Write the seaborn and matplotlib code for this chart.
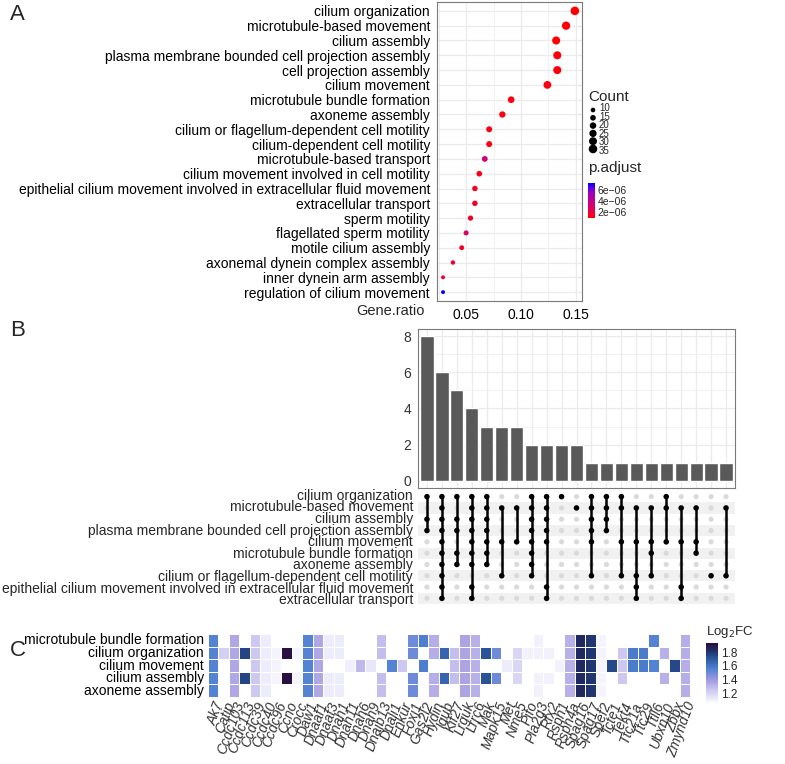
import numpy as np
import pandas as pd
import matplotlib
matplotlib.use("Agg")
import matplotlib.pyplot as plt
import seaborn as sns
from matplotlib.colors import LinearSegmentedColormap, Normalize

# ---------------- panel A: GO enrichment dot plot ----------------
go_terms = [
    "cilium organization",
    "microtubule-based movement",
    "cilium assembly",
    "plasma membrane bounded cell projection assembly",
    "cell projection assembly",
    "cilium movement",
    "microtubule bundle formation",
    "axoneme assembly",
    "cilium or flagellum-dependent cell motility",
    "cilium-dependent cell motility",
    "microtubule-based transport",
    "cilium movement involved in cell motility",
    "epithelial cilium movement involved in extracellular fluid movement",
    "extracellular transport",
    "sperm motility",
    "flagellated sperm motility",
    "motile cilium assembly",
    "axonemal dynein complex assembly",
    "inner dynein arm assembly",
    "regulation of cilium movement",
]
gene_ratio = [0.149, 0.141, 0.132, 0.133, 0.133, 0.124, 0.091, 0.083, 0.071, 0.071,
              0.067, 0.062, 0.058, 0.058, 0.054, 0.050, 0.046, 0.038, 0.029, 0.029]
gene_count = [35, 33, 31, 31, 31, 29, 21, 19, 17, 17, 16, 15, 14, 14, 13, 12, 11, 9, 7, 7]
p_adjust = [0.91e-6, 1.0e-6, 1.0e-6, 1.1e-6, 1.1e-6, 1.2e-6, 1.2e-6, 1.3e-6, 1.3e-6, 1.3e-6,
            3.3e-6, 1.4e-6, 1.5e-6, 1.5e-6, 1.6e-6, 2.9e-6, 1.6e-6, 1.7e-6, 1.8e-6, 7.3e-6]
count_breaks = [10, 15, 20, 25, 30, 35]
padj_breaks = [2e-6, 4e-6, 6e-6]

# ---------------- panel B: upset of top terms ----------------
upset_terms = [
    "cilium organization",
    "microtubule-based movement",
    "cilium assembly",
    "plasma membrane bounded cell projection assembly",
    "cilium movement",
    "microtubule bundle formation",
    "axoneme assembly",
    "cilium or flagellum-dependent cell motility",
    "epithelial cilium movement involved in extracellular fluid movement",
    "extracellular transport",
]
intersection_size = [8, 6, 5, 4, 3, 3, 3, 2, 2, 2, 2, 1, 1, 1, 1, 1, 1, 1, 1, 1, 1]
intersection_members = [
    [0, 2, 3],
    [0, 1, 2, 3, 4, 5, 6, 7, 8, 9],
    [0, 2, 3, 5, 6],
    [0, 1, 2, 3, 4, 5, 6, 8, 9],
    [0, 1, 2, 3, 4, 5, 6],
    [1, 4, 7],
    [1, 4],
    [0, 1, 2, 3, 4, 5, 6, 7],
    [0, 1, 2, 3, 4, 8, 9],
    [0],
    [1],
    [0, 1, 2, 3, 4, 7],
    [0, 1, 2, 3],
    [0, 1, 4, 7],
    [1, 4, 7, 8, 9],
    [1, 4, 5, 7],
    [0, 1, 4],
    [1, 4, 8, 9],
    [1, 4, 5],
    [7],
    [1, 7],
]

# ---------------- panel C: log2FC heatmap ----------------
heat_terms = ["microtubule bundle formation", "cilium organization", "cilium movement",
              "cilium assembly", "axoneme assembly"]
heat_genes = ["Ak7", "Catip", "Ccdc103", "Ccdc113", "Ccdc39", "Ccdc40", "Ccdc96", "Ccno",
              "Crocc", "Daw1", "Dnaaf1", "Dnaaf3", "Dnah1", "Dnah11", "Dnah6", "Dnah9",
              "Dnajb13", "Dnali1", "Enkur", "Foxj1", "Gas2l2", "Hydin", "Iqub", "Kif27",
              "Lrguk", "Lrrc6", "Mak", "Mapk15", "Met", "Nme5", "Pifo", "Pla2g3", "Rfx2",
              "Rsph1", "Rsph4a", "Spag16", "Spag17", "Spef2", "Tcte1", "Tekt4", "Ttc21a",
              "Ttc29", "Ttll6", "Ubxn10", "Zbbx", "Zmynd10"]
gene_log2fc = [1.55, 1.22, 1.35, 1.76, 1.25, 1.12, 1.09, 1.92,
               1.09, 1.55, 1.35, 1.12, 1.12, 1.11, 1.30, 1.14,
               1.28, 1.55, 1.25, 1.50, 1.57, 1.33, 1.66, 1.28,
               1.36, 1.32, 1.72, 1.50, 1.12, 1.20, 1.10, 1.10, 1.10,
               1.10, 1.32, 1.84, 1.80, 1.09, 1.75, 1.25, 1.58,
               1.58, 1.55, 1.32, 1.75, 1.33]
# membership per gene, one flag per heat_terms row (top to bottom)
gene_in_term = ["11111", "01000", "11111", "01010", "11111", "11111", "01110", "01010",
                "01010", "11111", "11111", "11011", "11011", "00100", "00100", "00100",
                "11011", "00100", "00100", "11011", "10100", "11011", "01010", "01110",
                "11111", "11111", "01010", "01010", "00100", "01110", "01000", "11011", "01010",
                "00100", "11111", "11111", "11111", "11111", "00100", "01110", "01100",
                "01100", "10100", "01010", "00100", "11111"]

# ---------------- figure ----------------
sns.set_style("white")
plt.rcParams["font.family"] = ["Liberation Sans", "DejaVu Sans"]

W, H = 785, 764
fig = plt.figure(figsize=(W / 100, H / 100), dpi=100)


def box(x0, y0, x1, y1):
    return [x0 / W, 1 - y1 / H, (x1 - x0) / W, (y1 - y0) / H]


border = "#7a7a7a"
grid_c = "#ebebeb"
dot_sizes = (8, 38)

# ---- A
padj_cmap = LinearSegmentedColormap.from_list(
    "padj", ["#ff0000", "#e3005c", "#c4008e", "#9500c4", "#0000ff"])
padj_norm = Normalize(vmin=min(p_adjust), vmax=max(p_adjust))

go_df = pd.DataFrame({"term": go_terms, "ratio": gene_ratio, "count": gene_count,
                      "padj": p_adjust, "pos": np.arange(len(go_terms))})

axA = fig.add_axes(box(437, 2, 582, 301))
axA.set_axisbelow(True)
sns.scatterplot(data=go_df, x="ratio", y="pos", size="count", sizes=dot_sizes,
                size_norm=(7, 35), hue="padj", palette=padj_cmap, hue_norm=padj_norm,
                edgecolor="none", legend=False, ax=axA, zorder=3)
axA.set_xlim(0.0235, 0.1555)
axA.set_ylim(len(go_terms) - 0.4, -0.6)
axA.set_yticks(go_df["pos"])
axA.set_yticklabels(go_terms, fontsize=10, color="black")
axA.set_xticks([0.05, 0.10, 0.15])
axA.set_xticklabels(["0.05", "0.10", "0.15"], fontsize=10, color="black")
axA.set_xticks([0.025, 0.075, 0.125], minor=True)
axA.grid(True, which="major", color=grid_c, lw=0.9)
axA.grid(True, which="minor", axis="x", color=grid_c, lw=0.5)
axA.tick_params(axis="both", which="major", length=3, width=0.6, color="#333333", pad=2)
axA.tick_params(axis="x", which="minor", length=0)
axA.set_xlabel("")
axA.set_ylabel("")
for s in axA.spines.values():
    s.set_color(border)
    s.set_linewidth(0.8)
fig.text(425 / W, 1 - 311 / H, "Gene.ratio", fontsize=10.5, ha="right", va="center")

# count legend
fig.text(588 / W, 1 - 97 / H, "Count", fontsize=11, ha="left", va="center")
axL = fig.add_axes(box(586, 104, 620, 156))
axL.axis("off")
axL.set_xlim(0, 34)
axL.set_ylim(5.9, -0.77)
leg_df = pd.DataFrame({"x": 7, "y": np.arange(len(count_breaks)), "count": count_breaks})
sns.scatterplot(data=leg_df, x="x", y="y", size="count", sizes=dot_sizes, size_norm=(7, 35),
                color="black", edgecolor="none", legend=False, ax=axL)
# the key labels sit closer than one text line, so they are set as one block
axL.text(13, (len(count_breaks) - 1) / 2, "\n".join(str(c) for c in count_breaks),
         fontsize=7, va="center", ha="left", linespacing=0.82)

# p.adjust legend
fig.text(588 / W, 1 - 168 / H, "p.adjust", fontsize=11, ha="left", va="center")
caxA = fig.add_axes(box(588, 183, 595, 218))
cbA = fig.colorbar(plt.cm.ScalarMappable(norm=padj_norm, cmap=padj_cmap), cax=caxA,
                   ticks=padj_breaks)
cbA.outline.set_visible(False)
cbA.ax.set_yticklabels(["2e\u221206", "4e\u221206", "6e\u221206"], fontsize=7.5)
cbA.ax.tick_params(length=2, width=0.6, color="white", direction="in", pad=2)

# ---- B bars
n_cols = len(intersection_size)
axB = fig.add_axes(box(418, 329, 735, 488))
axB.set_axisbelow(True)
sns.barplot(x=np.arange(n_cols), y=intersection_size, color="#595959", saturation=1,
            width=0.88, ax=axB, zorder=3)
axB.set_xlim(-0.6, n_cols - 0.4)
axB.set_ylim(-0.4, 8.4)
axB.set_yticks([0, 2, 4, 6, 8])
axB.set_yticks([1, 3, 5, 7], minor=True)
axB.set_yticklabels(["0", "2", "4", "6", "8"], fontsize=10, color="#333333")
axB.set_xticks(np.arange(n_cols))
axB.set_xticklabels([])
axB.grid(True, which="major", color=grid_c, lw=0.9)
axB.grid(True, which="minor", axis="y", color=grid_c, lw=0.5)
axB.tick_params(axis="y", which="major", length=3, width=0.6, color="#333333", pad=2)
axB.tick_params(axis="y", which="minor", length=0)
axB.tick_params(axis="x", length=3, width=0.6, color="#333333")
axB.set_xlabel("")
axB.set_ylabel("")
for s in axB.spines.values():
    s.set_color(border)
    s.set_linewidth(0.8)

# ---- B matrix
n_rows = len(upset_terms)
axM = fig.add_axes(box(418, 491, 735, 604))
for r in range(1, n_rows, 2):
    axM.axhspan(r - 0.5, r + 0.5, color="#f1f1f1", lw=0, zorder=0)
cells = []
for c, members in enumerate(intersection_members):
    for r in range(n_rows):
        cells.append({"col": c, "row": r, "hit": r in members})
cell_df = pd.DataFrame(cells)
sns.scatterplot(data=cell_df[~cell_df["hit"]], x="col", y="row", color="#dadada", s=14,
                edgecolor="none", legend=False, ax=axM, zorder=2)
for c, members in enumerate(intersection_members):
    if len(members) > 1:
        axM.plot([c, c], [min(members), max(members)], color="black", lw=1.8,
                 solid_capstyle="butt", zorder=3)
sns.scatterplot(data=cell_df[cell_df["hit"]], x="col", y="row", color="black", s=16,
                edgecolor="none", legend=False, ax=axM, zorder=4)
axM.set_xlim(-0.6, n_cols - 0.4)
axM.set_ylim(n_rows - 0.5, -0.5)
axM.set_yticks([])
axM.set_xticks([])
axM.set_xlabel("")
axM.set_ylabel("")
for s in axM.spines.values():
    s.set_visible(False)
# row names are spaced tighter than a text line, so they are set as one block
fig.text(413 / W, 1 - 548 / H, "\n".join(upset_terms), fontsize=10, ha="right",
         va="center", multialignment="right", linespacing=0.782)

# ---- C heatmap
fc_cmap = LinearSegmentedColormap.from_list(
    "fc", [(0.0, "#f7f7fd"), (0.2, "#cdc8f2"), (0.36, "#a59ce1"), (0.56, "#5282d3"),
           (0.73, "#2a5aa3"), (0.87, "#1e2f66"), (1.0, "#2a0c3e")])
heat = pd.DataFrame(np.nan, index=heat_terms, columns=heat_genes)
for g, v, flags in zip(heat_genes, gene_log2fc, gene_in_term):
    for t, f in zip(heat_terms, flags):
        if f == "1":
            heat.loc[t, g] = v

axC = fig.add_axes(box(208, 634, 690, 697))
caxC = fig.add_axes(box(706, 643, 718, 702))
sns.heatmap(heat, cmap=fc_cmap, vmin=1.08, vmax=1.93, linewidths=0.5, linecolor="white",
            cbar_ax=caxC, cbar_kws={"ticks": [1.2, 1.4, 1.6, 1.8]}, ax=axC)
axC.set_xticks(np.arange(len(heat_genes)) + 0.5)
axC.set_xticklabels(heat_genes, rotation=70, ha="right", va="top", rotation_mode="anchor",
                    fontsize=10, fontstyle="italic", color="#333333")
axC.set_yticks(np.arange(len(heat_terms)) + 0.5)
axC.set_yticklabels(heat_terms, rotation=0, fontsize=10, color="black")
axC.tick_params(axis="both", length=0, pad=3)
axC.tick_params(axis="x", pad=2)
axC.set_xlabel("")
axC.set_ylabel("")
cbC = axC.collections[0].colorbar
cbC.outline.set_visible(False)
cbC.ax.tick_params(labelsize=8.5, length=2.5, width=0.6, color="white", direction="in", pad=2)
cbC.ax.set_yticklabels(["1.2", "1.4", "1.6", "1.8"])
fig.text(706 / W, 1 - 632 / H, "Log$_2$FC", fontsize=9.5, ha="left", va="center")

# panel letters
fig.text(10 / W, 1 - 15 / H, "A", fontsize=16, ha="left", va="center")
fig.text(10 / W, 1 - 331 / H, "B", fontsize=16, ha="left", va="center")
fig.text(10 / W, 1 - 651 / H, "C", fontsize=16, ha="left", va="center")

fig.savefig("out.png", dpi=100)
